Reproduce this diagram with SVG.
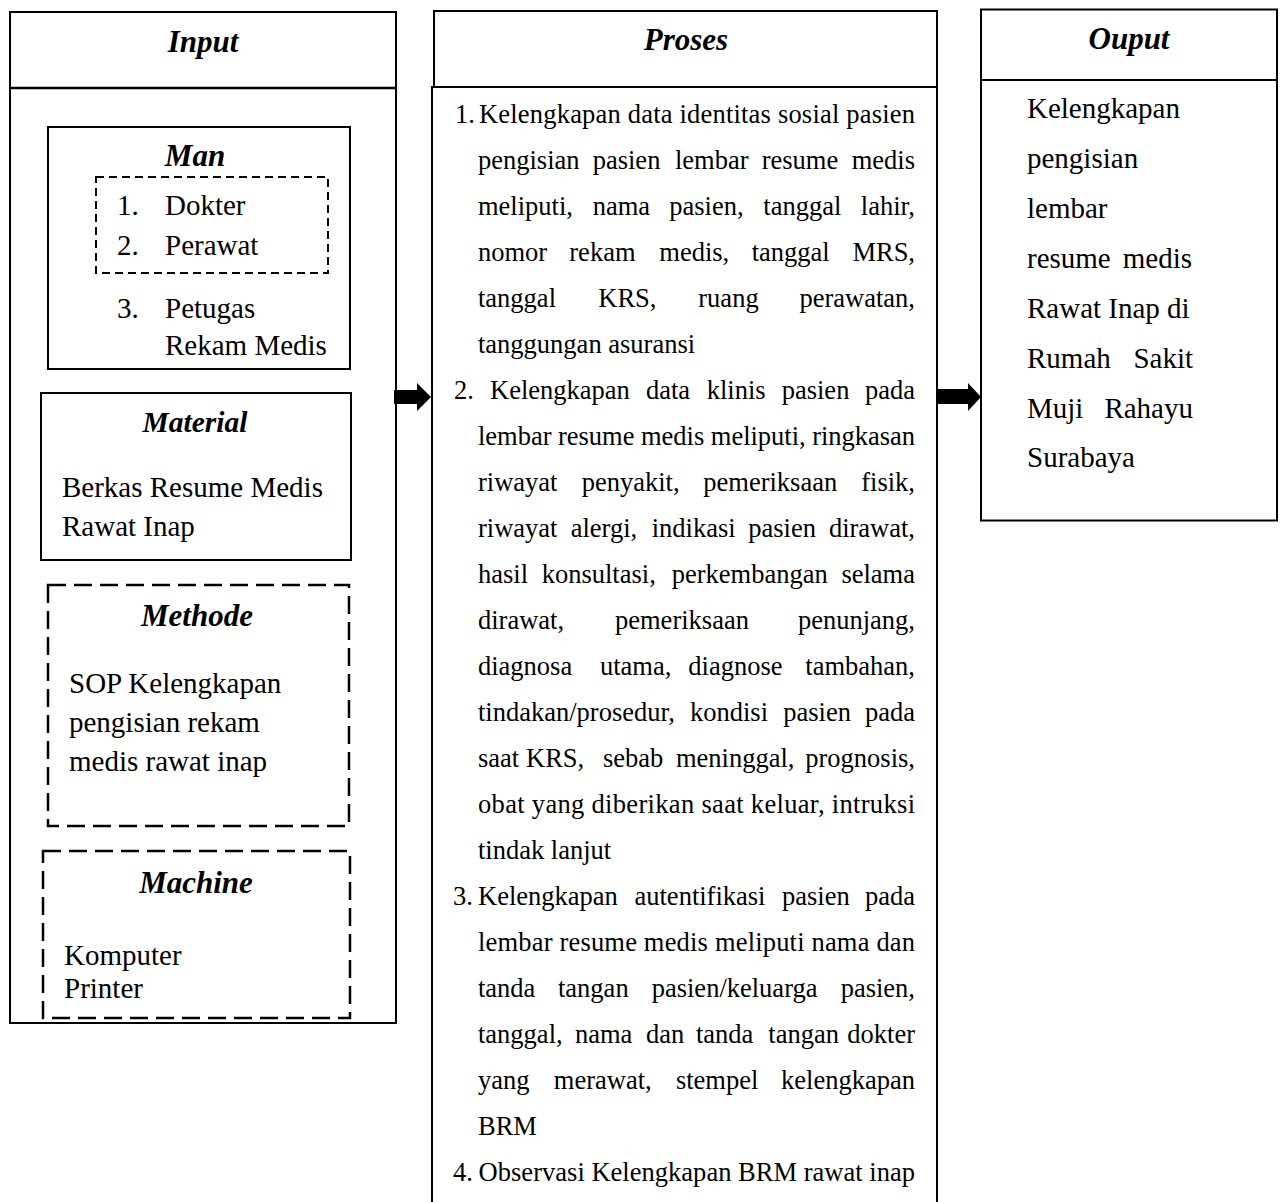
<svg xmlns="http://www.w3.org/2000/svg" width="1285" height="1202" viewBox="0 0 1285 1202">
<style>
  .box { fill: #fff; stroke: #000; stroke-width: 2; }
  .dash1 { fill: none; stroke: #000; stroke-width: 2; stroke-dasharray: 8 5; }
  .dash2 { fill: none; stroke: #000; stroke-width: 2.5; stroke-dasharray: 18 8; }
  .h { font-family: "Liberation Serif", "Times New Roman", serif; font-weight: bold; font-style: italic; font-size: 31px; text-anchor: middle; fill: #000; }
  .b { font-family: "Liberation Serif", "Times New Roman", serif; font-size: 29px; fill: #000; }
  .t { font-family: "Liberation Serif", "Times New Roman", serif; font-size: 26.5px; fill: #000; }
  .e { text-anchor: end; }
  .arrow { fill: #000; stroke: none; }
</style>
<rect width="1285" height="1202" fill="#fff"/>

<g id="input">
  <rect class="box" x="10" y="12" width="386" height="1011"/>
  <line x1="10" y1="88" x2="396" y2="88" stroke="#000" stroke-width="2.5"/>
  <text class="h" x="203" y="52">Input</text>
</g>

<g id="man">
  <rect class="box" x="48" y="127" width="302" height="242"/>
  <text class="h" x="195" y="166">Man</text>
  <rect class="dash1" x="96" y="177" width="232" height="96"/>
  <text class="b" y="215"><tspan x="117">1.</tspan><tspan x="165">Dokter</tspan></text>
  <text class="b" y="255"><tspan x="117">2.</tspan><tspan x="165">Perawat</tspan></text>
  <text class="b" y="318"><tspan x="117">3.</tspan><tspan x="165">Petugas</tspan></text>
  <text class="b" x="165" y="355">Rekam Medis</text>
</g>

<g id="material">
  <rect class="box" x="41" y="393" width="310" height="167"/>
  <text class="h" x="195" y="432" style="font-size:29.5px">Material</text>
  <text class="b" x="62" y="497">Berkas Resume Medis</text>
  <text class="b" x="62" y="536">Rawat Inap</text>
</g>

<g id="methode">
  <rect class="dash2" x="48" y="585" width="301" height="241"/>
  <text class="h" x="197" y="626">Methode</text>
  <text class="b" x="69" y="693">SOP Kelengkapan</text>
  <text class="b" x="69" y="732">pengisian rekam</text>
  <text class="b" x="69" y="771">medis rawat inap</text>
</g>

<g id="machine">
  <rect class="dash2" x="43" y="851" width="307" height="167"/>
  <text class="h" x="196" y="893">Machine</text>
  <text class="b" x="64" y="965">Komputer</text>
  <text class="b" x="64" y="998">Printer</text>
</g>

<g id="proses">
  <rect class="box" x="432" y="87" width="505" height="1130"/>
  <rect class="box" x="434" y="11" width="503" height="76"/>
  <text class="h" x="686" y="50">Proses</text>

  <text class="t" x="455" y="123">1.</text>
  <text class="t" x="479" y="123" textLength="436" lengthAdjust="spacing">Kelengkapan data identitas sosial pasien</text>
  <text class="t" y="169"><tspan x="478">pengisian</tspan><tspan x="592.7">pasien</tspan><tspan x="675">lembar</tspan><tspan x="761.7">resume</tspan><tspan x="915" class="e">medis</tspan></text>
  <text class="t" y="215"><tspan x="478">meliputi,</tspan><tspan x="592.7">nama</tspan><tspan x="669.3">pasien,</tspan><tspan x="763.3">tanggal</tspan><tspan x="915" class="e">lahir,</tspan></text>
  <text class="t" y="261"><tspan x="478">nomor</tspan><tspan x="569.3">rekam</tspan><tspan x="659.3">medis,</tspan><tspan x="751.7">tanggal</tspan><tspan x="915" class="e">MRS,</tspan></text>
  <text class="t" y="307"><tspan x="478">tanggal</tspan><tspan x="598.3">KRS,</tspan><tspan x="698.3">ruang</tspan><tspan x="915" class="e">perawatan,</tspan></text>
  <text class="t" x="478" y="353">tanggungan asuransi</text>

  <text class="t" x="454" y="399">2.</text>
  <text class="t" y="399"><tspan x="490">Kelengkapan</tspan><tspan x="646">data</tspan><tspan x="706.7">klinis</tspan><tspan x="781.7">pasien</tspan><tspan x="915" class="e">pada</tspan></text>
  <text class="t" x="478" y="445" textLength="437" lengthAdjust="spacing">lembar resume medis meliputi, ringkasan</text>
  <text class="t" y="491"><tspan x="478">riwayat</tspan><tspan x="581.7">penyakit,</tspan><tspan x="703.3">pemeriksaan</tspan><tspan x="915" class="e">fisik,</tspan></text>
  <text class="t" y="537"><tspan x="478">riwayat</tspan><tspan x="570.7">alergi,</tspan><tspan x="651.7">indikasi</tspan><tspan x="748.3">pasien</tspan><tspan x="915" class="e">dirawat,</tspan></text>
  <text class="t" y="583"><tspan x="478">hasil</tspan><tspan x="541.7">konsultasi,</tspan><tspan x="671.7">perkembangan</tspan><tspan x="915" class="e">selama</tspan></text>
  <text class="t" y="629"><tspan x="478">dirawat,</tspan><tspan x="615">pemeriksaan</tspan><tspan x="915" class="e">penunjang,</tspan></text>
  <text class="t" y="675"><tspan x="478">diagnosa</tspan><tspan x="600">utama,</tspan><tspan x="688.3">diagnose</tspan><tspan x="915" class="e">tambahan,</tspan></text>
  <text class="t" y="721"><tspan x="478">tindakan/prosedur,</tspan><tspan x="690">kondisi</tspan><tspan x="783.3">pasien</tspan><tspan x="915" class="e">pada</tspan></text>
  <text class="t" y="767"><tspan x="478">saat</tspan><tspan x="526">KRS,</tspan><tspan x="603">sebab</tspan><tspan x="676">meninggal,</tspan><tspan x="915" class="e">prognosis,</tspan></text>
  <text class="t" x="478" y="813" textLength="437" lengthAdjust="spacing">obat yang diberikan saat keluar, intruksi</text>
  <text class="t" x="478" y="859">tindak lanjut</text>

  <text class="t" x="453" y="905">3.</text>
  <text class="t" y="905"><tspan x="478">Kelengkapan</tspan><tspan x="634.5">autentifikasi</tspan><tspan x="782">pasien</tspan><tspan x="915" class="e">pada</tspan></text>
  <text class="t" x="478" y="951" textLength="437" lengthAdjust="spacing">lembar resume medis meliputi nama dan</text>
  <text class="t" y="997"><tspan x="478">tanda</tspan><tspan x="558">tangan</tspan><tspan x="651.7">pasien/keluarga</tspan><tspan x="915" class="e">pasien,</tspan></text>
  <text class="t" y="1043"><tspan x="478">tanggal,</tspan><tspan x="575">nama</tspan><tspan x="645.9">dan</tspan><tspan x="695.9">tanda</tspan><tspan x="768.3">tangan</tspan><tspan x="915" class="e">dokter</tspan></text>
  <text class="t" y="1089"><tspan x="478">yang</tspan><tspan x="553.8">merawat,</tspan><tspan x="675.9">stempel</tspan><tspan x="915" class="e">kelengkapan</tspan></text>
  <text class="t" x="478" y="1135">BRM</text>

  <text class="t" x="453" y="1181">4.</text>
  <text class="t" x="478.6" y="1181" textLength="436.4" lengthAdjust="spacing">Observasi Kelengkapan BRM rawat inap</text>
</g>

<g id="output">
  <rect class="box" x="981" y="9.5" width="296" height="511"/>
  <line x1="981" y1="80" x2="1277" y2="80" stroke="#000" stroke-width="2"/>
  <text class="h" x="1129" y="49">Ouput</text>
  <text class="b" x="1027" y="118">Kelengkapan</text>
  <text class="b" x="1027" y="168">pengisian</text>
  <text class="b" x="1027" y="218">lembar</text>
  <text class="b" y="268"><tspan x="1027">resume</tspan><tspan x="1192" class="e">medis</tspan></text>
  <text class="b" x="1027" y="318">Rawat Inap di</text>
  <text class="b" y="368"><tspan x="1027">Rumah</tspan><tspan x="1193" class="e">Sakit</tspan></text>
  <text class="b" y="418"><tspan x="1027">Muji</tspan><tspan x="1193" class="e">Rahayu</tspan></text>
  <text class="b" x="1027" y="467">Surabaya</text>
</g>

<g id="connectors">
  <polygon class="arrow" points="394,390 417,390 417,383 431,397 417,411 417,404 394,404"/>
  <polygon class="arrow" points="937,389 968,389 968,383 981,397 968,411 968,404 937,404"/>
</g>
</svg>
